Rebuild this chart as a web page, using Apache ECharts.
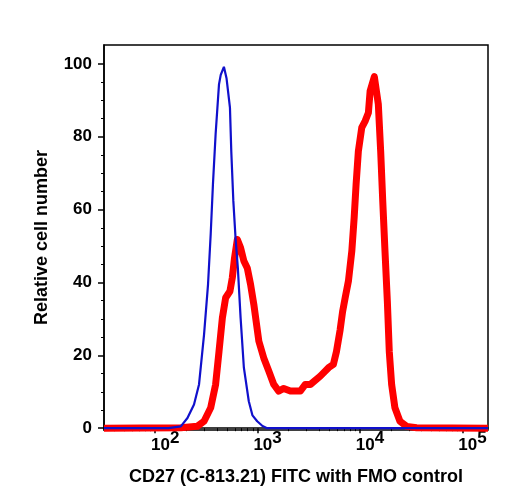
<!DOCTYPE html>
<html>
<head>
<meta charset="utf-8">
<script src="https://cdn.jsdelivr.net/npm/echarts@6/dist/echarts.min.js"></script>
<style>html,body{margin:0;padding:0;background:#fff}#chart{width:508px;height:500px}</style>
</head>
<body>
<div id="chart"></div>
<script>
// x values are log10 of FITC intensity
var cd27X = [1.5, 2.25, 2.41, 2.477, 2.542, 2.59, 2.623, 2.656, 2.688, 2.73, 2.753, 2.775, 2.802, 2.834, 2.866, 2.899, 2.931, 2.963, 3.012, 3.06, 3.109, 3.158, 3.206, 3.255, 3.32, 3.417, 3.466, 3.515, 3.612, 3.693, 3.74, 3.77, 3.806, 3.83, 3.855, 3.887, 3.92, 3.943, 3.962, 3.984, 4.017, 4.05, 4.082, 4.099, 4.14, 4.179, 4.202, 4.222, 4.244, 4.267, 4.286, 4.309, 4.341, 4.39, 4.455, 4.553, 5.25];
var cd27Y = [0, 0.1, 0.5, 1.9, 5.6, 12, 21, 30.3, 35.8, 37.6, 41.3, 46.8, 51.8, 49.5, 45.9, 44, 39.5, 34, 23.9, 19.3, 15.7, 12, 10.2, 10.9, 10.2, 10.2, 12, 12, 14.3, 16.6, 17.5, 21, 27, 32, 35.8, 40.4, 48.6, 57.8, 67, 76, 82.5, 84.3, 86.6, 92.6, 96.5, 88.9, 76, 62.4, 48.6, 34.9, 21, 12, 5.6, 1.9, 0.5, 0.1, 0];
var fmoX = [1.5, 2.13, 2.25, 2.315, 2.379, 2.428, 2.477, 2.516, 2.542, 2.564, 2.59, 2.623, 2.64, 2.671, 2.697, 2.73, 2.743, 2.763, 2.785, 2.807, 2.834, 2.866, 2.914, 2.95, 2.996, 3.048, 3.093, 5.25];
var fmoY = [0, 0, 0.5, 2.8, 6.5, 12, 25.7, 39.5, 53.3, 67, 80.7, 94.4, 97, 99.2, 96, 88, 76, 62.4, 52, 44, 30.3, 16.6, 7.4, 3.5, 1.9, 0.6, 0, 0];
var xTickExponents = [2, 3, 4, 5];
var yTickValues = [0, 20, 40, 60, 80, 100];
var yMinorValues = [5, 10, 15, 25, 30, 35, 45, 50, 55, 65, 70, 75, 85, 90, 95];
var xTitle = 'CD27 (C-813.21) FITC with FMO control';
var yTitle = 'Relative cell number';

function zip(xs, ys) { return xs.map(function (x, i) { return [x, ys[i]]; }); }
var xMinor = [];
for (var d = 1; d <= 5; d++) {
  for (var k = 2; k <= 9; k++) {
    var v = d + Math.log10(k);
    if (v > 1.5 && v < 5.25) xMinor.push(v);
  }
}
var FONT = "'Liberation Sans', Arial, Helvetica, sans-serif";
var XMIN = 1.5, XMAX = 5.25, YMIN = -0.5, YMAX = 105.2;

var chart = echarts.init(document.getElementById('chart'));
chart.setOption({
  animation: false,
  backgroundColor: '#fff',
  grid: { left: 104, right: 20, top: 45, bottom: 70, show: true, borderColor: '#000', borderWidth: 1.5 },
  xAxis: [{
    type: 'value', min: XMIN, max: XMAX, position: 'bottom',
    name: xTitle, nameLocation: 'middle', nameGap: 38,
    nameTextStyle: { fontFamily: FONT, fontWeight: 'bold', fontSize: 18, color: '#000' },
    axisLine: { show: true, lineStyle: { color: '#000', width: 1.5 } },
    axisTick: { show: true, inside: false, length: 5, customValues: xTickExponents, lineStyle: { color: '#000', width: 1.5 } },
    axisLabel: {
      customValues: xTickExponents, margin: 7, padding: [0, 0, 0, 20],
      formatter: function (v) { return '{b|10}{s|' + Math.round(v) + '}'; },
      rich: {
        b: { fontFamily: FONT, fontWeight: 'bold', fontSize: 17, lineHeight: 17, color: '#000', verticalAlign: 'bottom' },
        s: { fontFamily: FONT, fontWeight: 'bold', fontSize: 17, lineHeight: 17, color: '#000', verticalAlign: 'bottom', padding: [0, 0, 7, 0] }
      }
    },
    splitLine: { show: false }
  }, {
    type: 'value', min: XMIN, max: XMAX, position: 'bottom', gridIndex: 0,
    axisLine: { show: false },
    axisTick: { show: true, inside: false, length: 3, customValues: xMinor, lineStyle: { color: '#000', width: 1 } },
    axisLabel: { show: false },
    splitLine: { show: false }
  }],
  yAxis: [{
    type: 'value', min: YMIN, max: YMAX, position: 'left',
    name: yTitle, nameLocation: 'middle', nameGap: 53, nameRotate: 90,
    nameTextStyle: { fontFamily: FONT, fontWeight: 'bold', fontSize: 18, color: '#000' },
    axisLine: { show: true, lineStyle: { color: '#000', width: 1.5 } },
    axisTick: { show: true, inside: false, length: 6, customValues: yTickValues, lineStyle: { color: '#000', width: 1.5 } },
    axisLabel: { customValues: yTickValues, margin: 12, fontFamily: FONT, fontWeight: 'bold', fontSize: 17, color: '#000' },
    splitLine: { show: false }
  }, {
    type: 'value', min: YMIN, max: YMAX, position: 'left', gridIndex: 0,
    axisLine: { show: false },
    axisTick: { show: true, inside: false, length: 3, customValues: yMinorValues, lineStyle: { color: '#000', width: 1 } },
    axisLabel: { show: false },
    splitLine: { show: false }
  }],
  series: [{
    name: 'CD27', type: 'line', xAxisIndex: 0, yAxisIndex: 0,
    data: zip(cd27X, cd27Y), showSymbol: false, symbol: 'none',
    lineStyle: { color: '#ff0000', width: 7, join: 'round' }, z: 2
  }, {
    name: 'FMO', type: 'line', xAxisIndex: 0, yAxisIndex: 0,
    data: zip(fmoX, fmoY), showSymbol: false, symbol: 'none',
    lineStyle: { color: '#1010cc', width: 2.2 }, z: 3
  }]
});
</script>
</body>
</html>
